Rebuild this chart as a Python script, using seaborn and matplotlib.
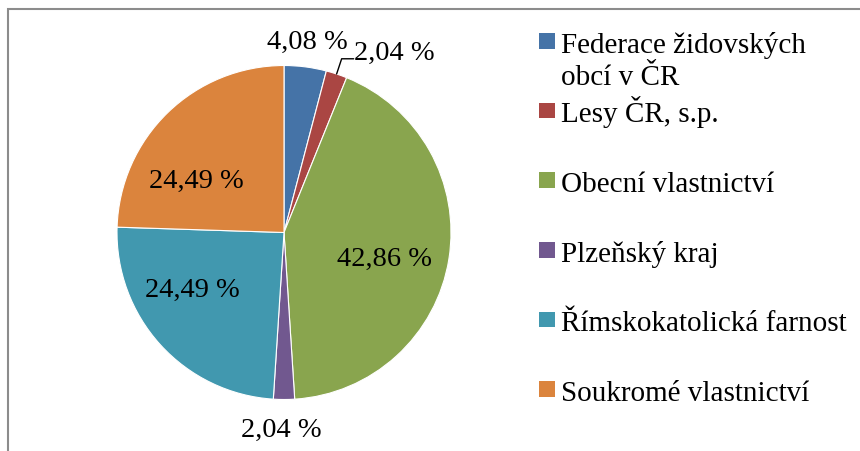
import numpy as np
import seaborn as sns
import matplotlib.pyplot as plt
from matplotlib.patches import Rectangle

# data
owners = [
    "Federace židovských\nobcí v ČR",
    "Lesy ČR, s.p.",
    "Obecní vlastnictví",
    "Plzeňský kraj",
    "Římskokatolická farnost",
    "Soukromé vlastnictví",
]
shares = [4.08, 2.04, 42.86, 2.04, 24.49, 24.49]
colors = ["#4573A7", "#AA4643", "#89A54E", "#71588F", "#4198AF", "#DB843D"]

# label baseline positions (in pie-radius units)
label_pos = [(0.141, 1.105), None, (0.599, -0.195), (-0.014, -1.217), (-0.549, -0.382), (-0.527, 0.271)]

W, H = 860, 452
R_PX = 167.0
CX, CY = 284.0, 233.5

sns.set_theme(style="white")
plt.rcParams["font.family"] = ["Liberation Serif", "DejaVu Serif"]
plt.rcParams["text.color"] = "black"
FS = 20.5
FS_LEG = 21

fig = plt.figure(figsize=(W / 100, H / 100), dpi=100)
ax = fig.add_axes([0, 0, 1, 1])

wedges, _ = ax.pie(
    shares,
    colors=colors,
    startangle=90,
    counterclock=False,
    radius=1,
    wedgeprops=dict(edgecolor="white", linewidth=0.8),
)

# map axes so 1 unit = pie radius in pixels
ax.set_xlim(-CX / R_PX, (W - CX) / R_PX)
ax.set_ylim(-(H - CY) / R_PX, CY / R_PX)
ax.set_aspect("auto")
ax.axis("off")

for i, (w, v) in enumerate(zip(wedges, shares)):
    txt = f"{v:.2f}".replace(".", ",") + " %"
    if label_pos[i] is None:
        # leader line for the small red slice
        theta = np.deg2rad((w.theta1 + w.theta2) / 2)
        ex, ey = np.cos(theta), np.sin(theta)
        kx, ky = 1.096 * ex, 1.096 * ey
        ax.plot([ex, kx, kx + 0.072], [ey, ky, ky], color="black", lw=1.0)
        ax.text(kx + 0.075, ky, txt, ha="left", va="baseline", fontsize=FS, color="black")
    else:
        x, y = label_pos[i]
        ax.text(x, y, txt, ha="center", va="baseline", fontsize=FS, color="black")

# legend drawn by hand, Excel-style
y0, step = 52.7, 69.6
for i, (lab, c) in enumerate(zip(owners, colors)):
    yb = y0 + i * step
    fig.patches.append(Rectangle((539 / W, 1 - (yb - 3) / H), 15.5 / W, 15.5 / H,
                                 transform=fig.transFigure, facecolor=c, edgecolor="none"))
    lines = lab.split("\n")
    for j, line in enumerate(lines):
        fig.text(561 / W, 1 - (yb + j * 32.3) / H, line, fontsize=FS_LEG, ha="left",
                 va="baseline", color="black")

# chart border (cut off at right and bottom like the reference)
fig.patches.append(Rectangle((7.5 / W, -0.1), 1.2, 1.1 - 10 / H, transform=fig.transFigure,
                             facecolor="none", edgecolor="#8c8c8c", lw=1.5))

fig.savefig("out.png", dpi=100)
